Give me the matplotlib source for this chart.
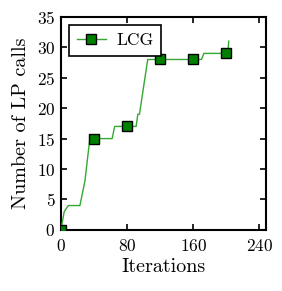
import matplotlib
matplotlib.use("Agg")
import matplotlib.pyplot as plt

plt.rcParams["font.family"] = "serif"
plt.rcParams["font.serif"] = ["cmr10"]
plt.rcParams["mathtext.fontset"] = "cm"
plt.rcParams["axes.formatter.use_mathtext"] = True

iterations = [0, 4, 9, 23, 29, 35, 40, 62, 65, 80, 91, 93, 95, 105, 120, 160, 170, 173, 200, 202, 203]
lp_calls = [0, 3, 4, 4, 8, 15, 15, 15, 17, 17, 17, 19, 19, 28, 28, 28, 28, 29, 29, 29, 31]
marker_iters = [0, 40, 80, 120, 160, 200]
marker_idx = [iterations.index(m) for m in marker_iters]

fig = plt.figure(figsize=(2.82, 2.91), dpi=100)
ax = fig.add_axes([0.216, 0.21, 0.727, 0.732])

ax.plot(iterations, lp_calls, color="#33a833", lw=1.0,
        marker="s", markersize=6.5, markerfacecolor="green",
        markeredgecolor="black", markeredgewidth=1.0,
        markevery=marker_idx, label="LCG", zorder=3)

ax.set_xlim(0, 248)
ax.set_ylim(0, 35)
ax.set_xticks([0, 80, 160, 240])
ax.set_yticks(range(0, 36, 5))
ax.tick_params(direction="in", top=True, right=True, length=4, width=1.2,
               labelsize=12.5)
ax.tick_params(axis="x", pad=6)
ax.tick_params(axis="y", pad=4)
for s in ax.spines.values():
    s.set_linewidth(1.5)

ax.set_xlabel("Iterations", fontsize=14.5, labelpad=3)
ax.set_ylabel("Number of LP calls", fontsize=14.5, labelpad=5)

leg = ax.legend(loc="upper left", fontsize=12.5, fancybox=False, framealpha=1,
                borderaxespad=0.45, handlelength=1.7, handletextpad=0.6,
                borderpad=0.45)
leg.get_frame().set_edgecolor("black")
leg.get_frame().set_linewidth(1.2)

fig.savefig("out.png", dpi=100)
